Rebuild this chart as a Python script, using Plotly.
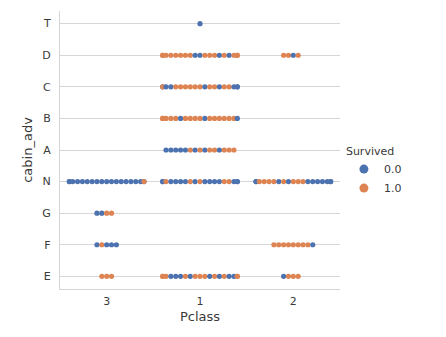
import plotly.graph_objects as go

# Category order on each axis
pclass_labels = ["3", "1", "2"]
cabin_labels = ["T", "D", "C", "B", "A", "N", "G", "F", "E"]
survived_labels = ["0.0", "1.0"]

# Survived flag (0/1) of every passenger in each swarm, ordered left to right
survived_class3 = {
    "N": "0000000000000000001",
    "G": "0011",
    "F": "01000",
    "E": "111",
}
survived_class1 = {
    "T": "0",
    "D": "1111111100111010111",
    "C": "0100111111011011000",
    "B": "111110111101111110",
    "A": "000001010110111",
    "N": "0010000101000011000",
    "E": "1110001011101010011",
}
survived_class2 = {
    "D": "1101",
    "N": "0011110101110000000",
    "F": "111111110",
    "E": "0111",
}

palette = ["#4c72b0", "#dd8452"]
text_color = "#3a3a3a"
grid_color = "#d6d6d6"
font_family = "DejaVu Sans, sans-serif"

SWARM_STEP = 0.052   # distance between neighbouring dots, in category units
HALF_WIDTH = 0.4     # dots that do not fit are stacked at the swarm edge


def swarm_offsets(n):
    offs = []
    for i in range(n):
        o = (i - n // 2) * SWARM_STEP
        offs.append(max(-HALF_WIDTH, min(HALF_WIDTH, o)))
    return offs


xs, ys, cols = [], [], []
for ci, groups in enumerate([survived_class3, survived_class1, survived_class2]):
    for cabin, flags in groups.items():
        yi = cabin_labels.index(cabin)
        for off, f in zip(swarm_offsets(len(flags)), flags):
            xs.append(ci + off)
            ys.append(yi)
            cols.append(palette[int(f)])

fig = go.Figure()
fig.add_trace(go.Scatter(
    x=xs, y=ys, mode="markers",
    marker=dict(size=5.2, color=cols, line=dict(width=0)),
    showlegend=False, hoverinfo="skip",
))
for lab, c in zip(survived_labels, palette):
    fig.add_trace(go.Scatter(
        x=[None], y=[None], mode="markers", name=lab,
        marker=dict(size=9, color=c),
    ))

fig.update_layout(
    width=446, height=337,
    margin=dict(l=60, r=106, t=11, b=48),
    paper_bgcolor="white", plot_bgcolor="white",
    font=dict(family=font_family, size=11, color=text_color),
    legend=dict(
        title=dict(text="Survived", font=dict(size=11, color=text_color)),
        x=1.014, xanchor="left", y=0.535, yanchor="top",
        font=dict(size=11, color=text_color),
        bgcolor="rgba(0,0,0,0)",
    ),
    xaxis=dict(
        range=[-0.5, 2.5], tickvals=[0, 1, 2], ticktext=pclass_labels,
        showgrid=False, zeroline=False, showline=True,
        linecolor=grid_color, linewidth=1.2, ticks="",
        ticklabelstandoff=2,
        title=dict(text="Pclass", standoff=4),
    ),
    yaxis=dict(
        range=[8.4, -0.4], tickvals=list(range(len(cabin_labels))),
        ticktext=cabin_labels,
        showgrid=True, gridcolor=grid_color, gridwidth=1.2,
        zeroline=False, showline=True, linecolor=grid_color, linewidth=1.2,
        ticks="", ticklabelstandoff=6,
        title=dict(text="cabin_adv", standoff=6),
    ),
)

fig.write_html("out.html")
